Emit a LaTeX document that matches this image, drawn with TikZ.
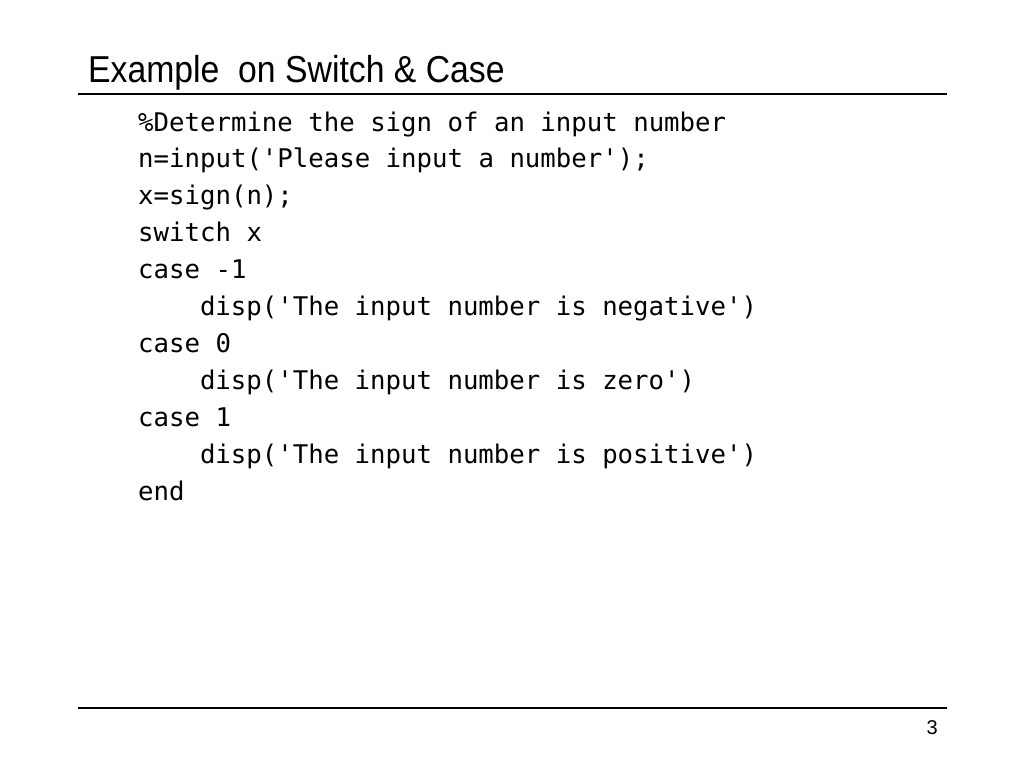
\documentclass[tikz,border=0pt]{standalone}
\usepackage{fontspec}
\newfontfamily\codefont{DejaVu Sans Mono}
\newfontfamily\titlefont{Liberation Sans}[FakeStretch=0.9]
\newfontfamily\numfont{Liberation Sans}
\begin{document}
\begin{tikzpicture}[x=1pt,y=-1pt,
  code/.style={anchor=base west,inner sep=0pt,font=\codefont\fontsize{25.7}{30}\selectfont},
  rule/.style={line width=1.2pt,black}]
\useasboundingbox[fill=white] (0,0) rectangle (1024,768);
\node[anchor=base west,inner sep=0pt,font=\titlefont\fontsize{37.5}{42}\selectfont] (title) at (88,82) {Example\ \ on Switch \& Case};
\coordinate (t1) at (78,94); \coordinate (t2) at (947,94);
\draw[rule] (t1) -- (t2);
\coordinate (b1) at (78,708); \coordinate (b2) at (947,708);
\draw[rule] (b1) -- (b2);
\node[anchor=base east,inner sep=0pt,font=\numfont\fontsize{20}{24}\selectfont] (pg) at (938,734) {3};
\def\lh{36.9}
\node[code] (l1) at (138,131) {\%Determine the sign of an input number};
\node[code] (l2) at (138,131+\lh) {n=input('Please input a number');};
\node[code] (l3) at (138,131+2*\lh) {x=sign(n);};
\node[code] (l4) at (138,131+3*\lh) {switch x};
\node[code] (l5) at (138,131+4*\lh) {case -1};
\node[code] (l6) at (199.8,131+5*\lh) {disp('The input number is negative')};
\node[code] (l7) at (138,131+6*\lh) {case 0};
\node[code] (l8) at (199.8,131+7*\lh) {disp('The input number is zero')};
\node[code] (l9) at (138,131+8*\lh) {case 1};
\node[code] (l10) at (199.8,131+9*\lh) {disp('The input number is positive')};
\node[code] (l11) at (138,131+10*\lh) {end};
\end{tikzpicture}
\end{document}
